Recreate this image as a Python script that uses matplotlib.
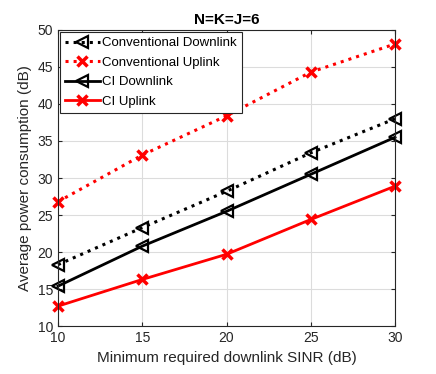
import matplotlib
matplotlib.use("Agg")
import matplotlib.pyplot as plt

plt.rcParams['font.family'] = ['Liberation Sans', 'DejaVu Sans']

sinr = [10, 15, 20, 25, 30]
conv_down = [18.3, 23.3, 28.2, 33.4, 38.0]
conv_up = [26.8, 33.1, 38.4, 44.3, 48.1]
ci_down = [15.4, 20.8, 25.5, 30.5, 35.5]
ci_up = [12.7, 16.3, 19.7, 24.4, 28.9]

fig = plt.figure(figsize=(4.36, 3.74), dpi=100)
ax = fig.add_axes([0.133, 0.128, 0.773, 0.792])

ax.plot(sinr, conv_down, ':', color='k', lw=2.2, marker='<', ms=9,
        mfc='none', mew=1.6, clip_on=False, label='Conventional Downlink')
ax.plot(sinr, conv_up, ':', color='r', lw=2.2, marker='x', ms=7,
        mew=2.5, clip_on=False, label='Conventional Uplink')
ax.plot(sinr, ci_down, '-', color='k', lw=2, marker='<', ms=9,
        mfc='none', mew=1.6, clip_on=False, label='CI Downlink')
ax.plot(sinr, ci_up, '-', color='r', lw=2, marker='x', ms=7,
        mew=2.5, clip_on=False, label='CI Uplink')

ax.set_xlim(10, 30)
ax.set_ylim(10, 50)
ax.set_xticks([10, 15, 20, 25, 30])
ax.set_yticks(range(10, 51, 5))
ax.grid(True, color='#dcdcdc', lw=0.8)
ax.set_axisbelow(True)
for s in ax.spines.values():
    s.set_color('#262626')
    s.set_linewidth(0.8)
ax.tick_params(labelsize=10, direction='in', length=3, color='#262626',
               labelcolor='#262626', top=True, right=True)

ax.set_xlabel('Minimum required downlink SINR (dB)', fontsize=11, color='#262626')
ax.set_ylabel('Average power consumption (dB)', fontsize=11, color='#262626')
ax.set_title('N=K=J=6', fontsize=11, fontweight='bold', pad=4)

leg = ax.legend(loc='upper left', fontsize=9.5, handlelength=2.6,
                fancybox=False, edgecolor='#262626', framealpha=1,
                borderaxespad=0.15, labelspacing=0.55, handletextpad=0.2,
                borderpad=0.4)
leg.get_frame().set_linewidth(0.8)

fig.savefig('out.png', dpi=100)
